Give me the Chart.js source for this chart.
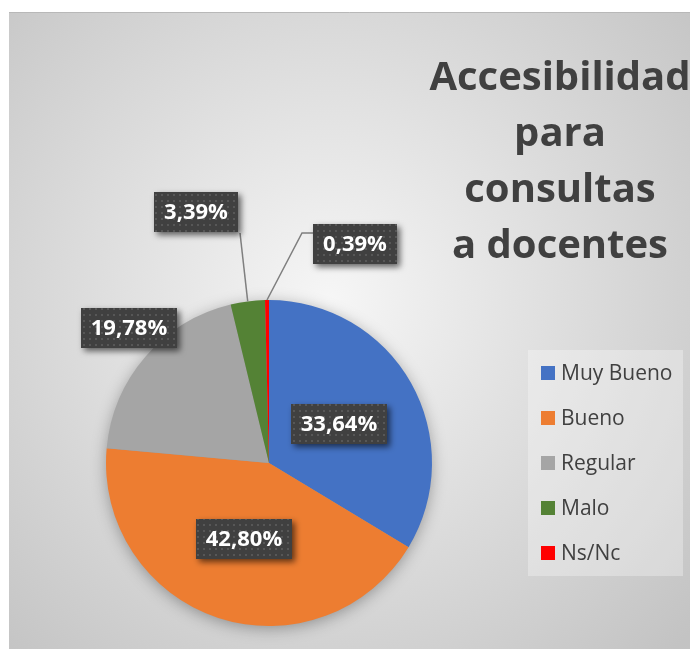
<!DOCTYPE html>
<html>
<head>
<meta charset="utf-8">
<title>Accesibilidad para consultas a docentes</title>
<script src="https://cdn.jsdelivr.net/npm/chart.js@4.4.1/dist/chart.umd.min.js"></script>
<style>
    html, body { margin: 0; padding: 0; background: #fff; }
    #wrap { position: absolute; left: 9px; top: 12px; width: 681px; height: 637px; }
</style>
</head>
<body>
<div id="wrap"><canvas id="pieChart" width="681" height="637"></canvas></div>
<script>
// ============================================
// DATA
// ============================================
const categories  = ['Muy Bueno', 'Bueno', 'Regular', 'Malo', 'Ns/Nc']
const percentages = [33.64, 42.80, 19.78, 3.39, 0.39]
const sliceColors = ['#4472C4', '#ED7D31', '#A5A5A5', '#548235', '#FF0000']
const titleLines  = ['Accesibilidad', 'para', 'consultas', 'a docentes']

// label placement: inside -> fraction of radius, otherwise offset from the slice's outer edge
const labelLayout = [
    { inside: 0.49 },
    { inside: 0.49 },
    { dx: -17, dy: -29 },
    { dx: -52, dy: -89, leader: 'corner' },
    { dx: 88, dy: -56, leader: 'elbow' }
]

const TEXT = '#404040'
const FONT = '"Open Sans", "Liberation Sans", sans-serif'

const fmt = v => v.toFixed(2).replace('.', ',') + '%'

// dotted dark fill used by the data labels
function makePattern(ctx) {
    const c = document.createElement('canvas')
    c.width = 6
    c.height = 6
    const p = c.getContext('2d')
    p.fillStyle = '#404040'
    p.fillRect(0, 0, 6, 6)
    p.fillStyle = '#575757'
    p.fillRect(2, 2, 2, 2)
    return ctx.createPattern(c, 'repeat')
}

// ============================================
// PLUGINS
// ============================================
const backdrop = {
    id: 'backdrop',
    beforeDraw(chart) {
        const { ctx, width, height } = chart
        const g = ctx.createRadialGradient(321, 288, 0, 321, 288, 490)
        g.addColorStop(0, '#f6f6f6')
        g.addColorStop(1, '#c3c3c3')
        ctx.save()
        ctx.fillStyle = g
        ctx.fillRect(0, 0, width, height)
        ctx.strokeStyle = '#b8b8b8'
        ctx.lineWidth = 1
        ctx.beginPath()
        ctx.moveTo(0, 0.5)
        ctx.lineTo(width, 0.5)
        ctx.stroke()

        // title
        ctx.fillStyle = TEXT
        ctx.font = 'bold 40px ' + FONT
        ctx.textAlign = 'center'
        ctx.textBaseline = 'alphabetic'
        titleLines.forEach((line, i) => ctx.fillText(line, 551, 78 + i * 56))

        // legend
        ctx.fillStyle = 'rgba(255,255,255,0.3)'
        ctx.fillRect(519, 338, 155, 226)
        ctx.font = '21px ' + FONT
        ctx.textAlign = 'left'
        ctx.textBaseline = 'middle'
        chart.data.labels.forEach((lab, i) => {
            const y = 361 + i * 45
            ctx.fillStyle = chart.data.datasets[0].backgroundColor[i]
            ctx.fillRect(532, y - 7, 14, 14)
            ctx.fillStyle = TEXT
            ctx.fillText(lab, 552, y + 1)
        })
        ctx.restore()
    },
    beforeDatasetsDraw(chart) {
        // soft shadow under the pie
        const arc = chart.getDatasetMeta(0).data[0]
        if (!arc) return
        const { ctx } = chart
        ctx.save()
        ctx.shadowColor = 'rgba(0,0,0,0.35)'
        ctx.shadowBlur = 16
        ctx.shadowOffsetY = 3
        ctx.fillStyle = '#999'
        ctx.beginPath()
        ctx.arc(arc.x, arc.y, arc.outerRadius - 1, 0, Math.PI * 2)
        ctx.fill()
        ctx.restore()
    }
}

const dataLabels = {
    id: 'dataLabels',
    afterDatasetsDraw(chart) {
        const { ctx } = chart
        const meta = chart.getDatasetMeta(0)
        const values = chart.data.datasets[0].data
        const pattern = makePattern(ctx)

        ctx.save()
        ctx.font = 'bold 22px ' + FONT
        meta.data.forEach((arc, i) => {
            const lay = labelLayout[i]
            const mid = (arc.startAngle + arc.endAngle) / 2
            const ex = arc.x + Math.cos(mid) * arc.outerRadius
            const ey = arc.y + Math.sin(mid) * arc.outerRadius
            let cx, cy
            if (lay.inside) {
                cx = arc.x + Math.cos(mid) * arc.outerRadius * lay.inside
                cy = arc.y + Math.sin(mid) * arc.outerRadius * lay.inside
            } else {
                cx = ex + lay.dx
                cy = ey + lay.dy
            }
            const text = fmt(values[i])
            const w = Math.round(ctx.measureText(text).width + 20)
            const h = 40
            const x0 = Math.round(cx - w / 2)
            const y0 = Math.round(cy - h / 2)

            // leader line
            if (lay.leader) {
                ctx.strokeStyle = '#7f7f7f'
                ctx.lineWidth = 1.5
                ctx.beginPath()
                ctx.moveTo(ex, ey)
                if (lay.leader === 'corner') {
                    ctx.lineTo(x0 + w + 2, y0 + h + 1)
                } else {
                    ctx.lineTo(x0 - 11, y0 + 9)
                    ctx.lineTo(x0, y0 + 9)
                }
                ctx.stroke()
            }

            // box
            ctx.save()
            ctx.shadowColor = 'rgba(0,0,0,0.6)'
            ctx.shadowBlur = 6
            ctx.shadowOffsetX = 3
            ctx.shadowOffsetY = 3
            ctx.fillStyle = pattern
            ctx.fillRect(x0, y0, w, h)
            ctx.restore()

            ctx.fillStyle = '#ffffff'
            ctx.textAlign = 'center'
            ctx.textBaseline = 'middle'
            ctx.fillText(text, x0 + w / 2, y0 + h / 2 + 1)
        })
        ctx.restore()
    }
}

// ============================================
// CHART
// ============================================
new Chart(document.getElementById('pieChart'), {
    type: 'pie',
    data: {
        labels: categories,
        datasets: [{
            data: percentages,
            backgroundColor: sliceColors,
            borderWidth: 0
        }]
    },
    options: {
        responsive: false,
        animation: false,
        layout: { padding: { left: 97, top: 288, right: 258, bottom: 23 } },
        plugins: {
            legend: { display: false },
            title: { display: false },
            tooltip: { enabled: false }
        }
    },
    plugins: [backdrop, dataLabels]
})
</script>
</body>
</html>
